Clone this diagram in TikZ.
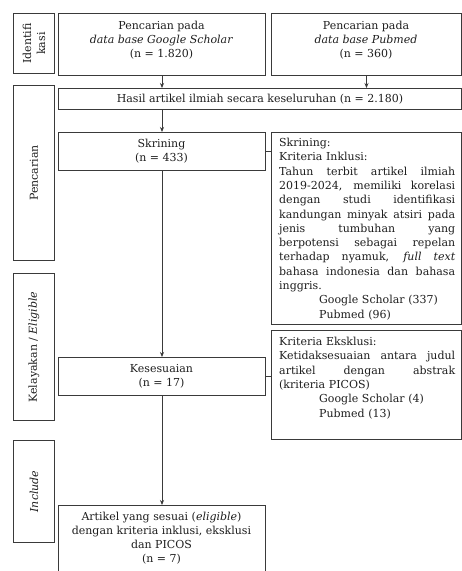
\documentclass[tikz,border=0pt]{standalone}
\usepackage{fontspec}
\setmainfont{DejaVu Serif}
\usetikzlibrary{arrows.meta}
\definecolor{linec}{HTML}{3A3A3A}
\definecolor{txtc}{HTML}{1E1E1E}
\newcommand{\jline}[1]{\makebox[176pt][s]{\spaceskip=0.3em plus 1fil\relax #1}}
\newcommand{\indline}[1]{\hspace*{40pt}#1}
\begin{document}
\begin{tikzpicture}[x=1pt,y=-1pt,
  box/.style={draw=linec, line width=1pt, inner sep=0pt, anchor=north west},
  txt/.style={text=txtc, font=\fontsize{11}{14}\selectfont, align=center, inner sep=0pt},
  side/.style={txt, rotate=90},
  longtxt/.style={text=txtc, font=\fontsize{11}{14.3}\selectfont, align=left, inner sep=0pt, anchor=north west, text width=177pt},
  arr/.style={draw=linec, line width=0.8pt, -{Stealth[length=5pt,width=4pt]}},
  conn/.style={draw=linec, line width=0.8pt}]
\useasboundingbox (0,0) rectangle (462,571);
\fill[white] (0,0) rectangle (462,571);
% side boxes
\node[box, minimum width=41pt, minimum height=60pt] (sid) at (13,13) {};
\node[side] (sidt) at (sid.center) {Identifi\\kasi};
\node[box, minimum width=41pt, minimum height=175pt] (spc) at (13,85) {};
\node[side] (spct) at (spc.center) {Pencarian};
\node[box, minimum width=41pt, minimum height=147pt] (skl) at (13,273) {};
\node[side] (sklt) at (skl.center) {Kelayakan / \textit{Eligible}};
\node[box, minimum width=41pt, minimum height=102pt] (sin) at (13,440) {};
\node[side] (sint) at (sin.center) {\textit{Include}};
% main boxes
\node[box, minimum width=207pt, minimum height=62pt] (gs) at (58,13) {};
\node[txt] (gst) at (161.5,40) {Pencarian pada\\\textit{data base Google Scholar}\\(n = 1.820)};
\node[box, minimum width=190pt, minimum height=62pt] (pm) at (271,13) {};
\node[txt] (pmt) at (366,40) {Pencarian pada\\\textit{data base Pubmed}\\(n = 360)};
\node[box, minimum width=403pt, minimum height=21pt] (hs) at (58,88) {};
\node[txt] (hst) at (260,99) {Hasil artikel ilmiah secara keseluruhan (n = 2.180)};
\node[box, minimum width=207pt, minimum height=38pt] (skr) at (58,132) {};
\node[txt] (skrt) at (161.5,151) {Skrining\\(n = 433)};
\node[box, minimum width=190pt, minimum height=192pt] (ink) at (271,132) {};
\node[longtxt] (inkt) at (279,138) {Skrining:\\
Kriteria Inklusi:\\
\jline{Tahun terbit artikel ilmiah}\\
\jline{2019-2024, memiliki korelasi}\\
\jline{dengan studi identifikasi}\\
\jline{kandungan minyak atsiri pada}\\
\jline{jenis tumbuhan yang}\\
\jline{berpotensi sebagai repelan}\\
\jline{terhadap nyamuk, \textit{full text}}\\
\jline{bahasa indonesia dan bahasa}\\
inggris.\\
\indline{Google Scholar (337)}\\
\indline{Pubmed (96)}};
\node[box, minimum width=207pt, minimum height=38pt] (kes) at (58,357) {};
\node[txt] (kest) at (161.5,376.5) {Kesesuaian\\(n = 17)};
\node[box, minimum width=190pt, minimum height=109pt] (eks) at (271,330) {};
\node[longtxt] (ekst) at (279,337) {Kriteria Eksklusi:\\
\jline{Ketidaksesuaian antara judul}\\
\jline{artikel dengan abstrak}\\
(kriteria PICOS)\\
\indline{Google Scholar (4)}\\
\indline{Pubmed (13)}};
\node[box, minimum width=207pt, minimum height=80pt] (fin) at (58,505) {};
\node[txt] (fint) at (161.5,538.5) {Artikel yang sesuai (\textit{eligible})\\dengan kriteria inklusi, eksklusi\\dan PICOS\\(n = 7)};
% connectors
\draw[arr] (gs.south) -- (gs.south |- hs.north);
\draw[arr] (pm.south) -- (pm.south |- hs.north);
\draw[arr] (skr.north |- hs.south) -- (skr.north);
\draw[arr] (skr.south) -- (kes.north);
\draw[arr] (kes.south) -- (fin.north);
\draw[conn] (skr.east) -- (skr.east -| ink.west);
\draw[conn] (kes.east) -- (kes.east -| eks.west);
\end{tikzpicture}
\end{document}
